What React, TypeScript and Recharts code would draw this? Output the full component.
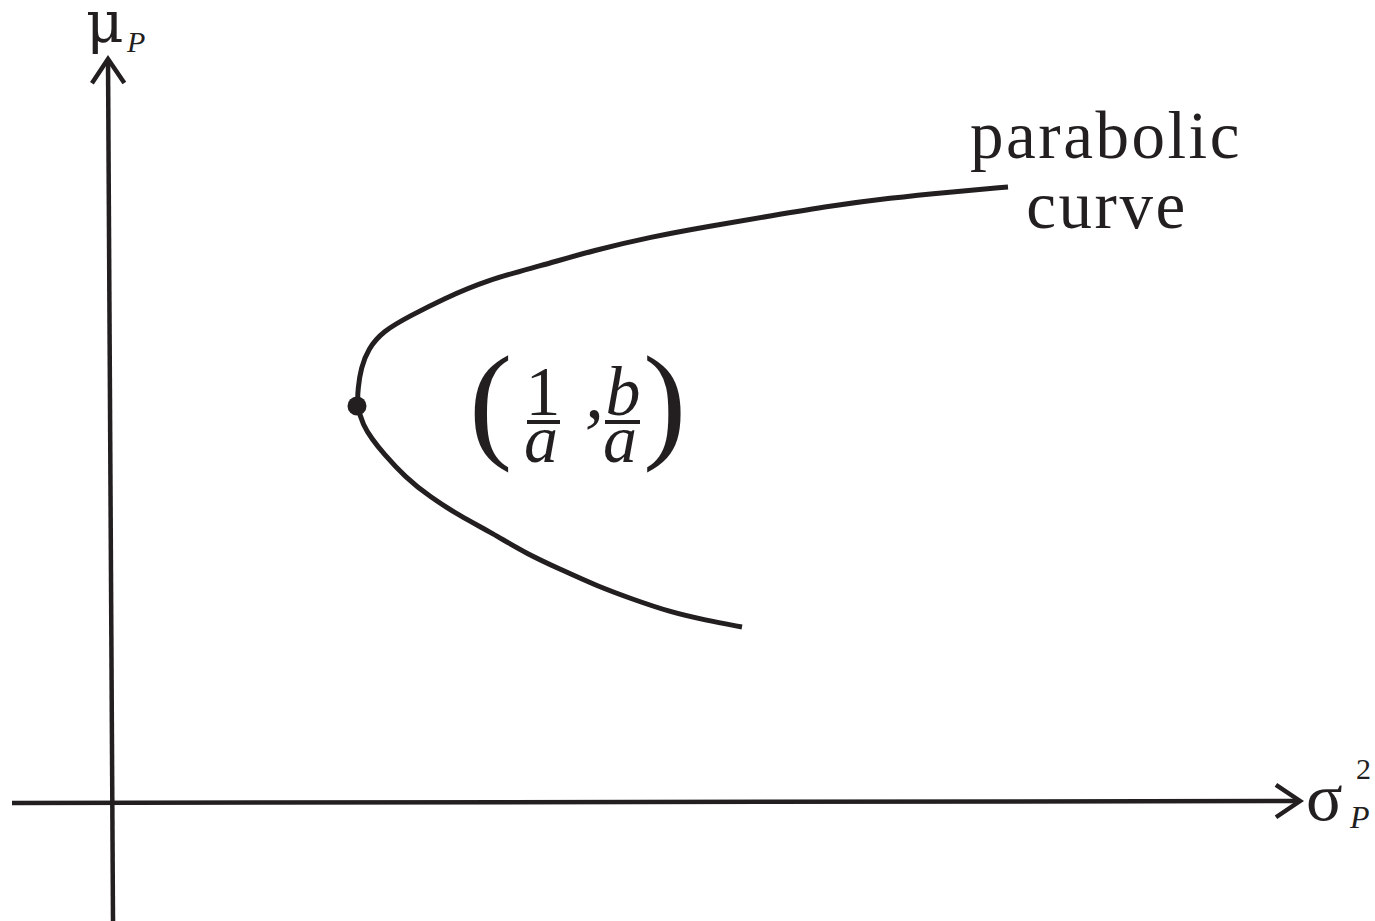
import React from "react";
import { LineChart, Line, XAxis, YAxis, ReferenceLine, ReferenceDot } from "recharts";

const INK = "#231f20";
const SERIF = "'Liberation Serif', 'Times New Roman', serif";

// upper branch, from the open end down to the vertex
const upperSigma = [8.96, 8.38, 7.78, 7.18, 6.58, 5.98, 5.38, 4.83, 4.28, 3.75, 3.31, 2.98, 2.71, 2.56, 2.49, 2.46];
const upperMu = [6.16, 6.11, 6.05, 5.97, 5.87, 5.77, 5.66, 5.53, 5.37, 5.23, 5.04, 4.87, 4.72, 4.54, 4.35, 4.15];

// minimum-variance point
const vertexSigma = 2.45;
const vertexMu = 3.97;

// lower branch, from the vertex to the open end
const lowerSigma = [2.51, 2.6, 2.71, 2.93, 3.18, 3.48, 3.8, 4.15, 4.5, 4.85, 5.2, 5.58, 5.93, 6.3];
const lowerMu = [3.78, 3.64, 3.5, 3.26, 3.06, 2.87, 2.7, 2.49, 2.33, 2.17, 2.04, 1.91, 1.83, 1.76];

// axis segments [sigma, mu]
const xAxisFrom = [-1.0, 0];
const xAxisTo = [11.88, 0.02];
const yAxisFrom = [0.01, -1.18];
const yAxisTo = [-0.04, 7.44];

const curveLabel = ["parabolic", "curve"];

const data = [
  ...upperSigma.map((s, i) => ({ sigma: s, mu: upperMu[i] })),
  { sigma: vertexSigma, mu: vertexMu },
  ...lowerSigma.map((s, i) => ({ sigma: s, mu: lowerMu[i] })),
];

const W = 1375;
const H = 921;

function Arrow(props: any) {
  const { x1, y1, x2, y2 } = props;
  const ang = Math.atan2(y2 - y1, x2 - x1);
  const len = 29;
  const spread = (34 * Math.PI) / 180;
  const a1x = x2 - len * Math.cos(ang - spread);
  const a1y = y2 - len * Math.sin(ang - spread);
  const a2x = x2 - len * Math.cos(ang + spread);
  const a2y = y2 - len * Math.sin(ang + spread);
  return (
    <g>
      <line x1={x1} y1={y1} x2={x2} y2={y2} stroke={INK} strokeWidth={4.5} />
      <polyline
        points={`${a1x},${a1y} ${x2},${y2} ${a2x},${a2y}`}
        fill="none"
        stroke={INK}
        strokeWidth={4.5}
        strokeLinejoin="miter"
      />
    </g>
  );
}

function VertexMark({ cx, cy }: any) {
  const t = { fontFamily: SERIF, fill: INK };
  return (
    <g>
      <circle cx={cx} cy={cy} r={9.5} fill={INK} />
      <text {...t} x={cx + 112} y={cy + 39} fontSize={130}>(</text>
      <text {...t} x={cx + 186} y={cy + 9} fontSize={70} textAnchor="middle">1</text>
      <line x1={cx + 170} x2={cx + 203} y1={cy + 16} y2={cy + 16} stroke={INK} strokeWidth={4} />
      <text {...t} x={cx + 184} y={cy + 56} fontSize={68} fontStyle="italic" textAnchor="middle">a</text>
      <text {...t} x={cx + 228} y={cy + 12} fontSize={76} fontStyle="italic">,</text>
      <text {...t} x={cx + 266} y={cy + 9} fontSize={70} fontStyle="italic" textAnchor="middle">b</text>
      <line x1={cx + 248} x2={cx + 283} y1={cy + 16} y2={cy + 16} stroke={INK} strokeWidth={4} />
      <text {...t} x={cx + 263} y={cy + 56} fontSize={68} fontStyle="italic" textAnchor="middle">a</text>
      <text {...t} x={cx + 286} y={cy + 39} fontSize={130}>)</text>
    </g>
  );
}

function CurveLabel({ cx, cy }: any) {
  return (
    <g fontFamily={SERIF} fill={INK} fontSize={67} letterSpacing={2.5}>
      <text x={cx + 98} y={cy - 29} textAnchor="middle">{curveLabel[0]}</text>
      <text x={cx + 99} y={cy + 41} textAnchor="middle">{curveLabel[1]}</text>
    </g>
  );
}

function MuLabel({ cx, cy }: any) {
  return (
    <g fill={INK}>
      <text x={cx - 22} y={cy - 17} fontSize={58} fontFamily="'DejaVu Serif', serif">μ</text>
      <text x={cx + 19} y={cy - 7} fontSize={30} fontStyle="italic" fontFamily={SERIF}>P</text>
    </g>
  );
}

function SigmaLabel({ cx, cy }: any) {
  return (
    <g fontFamily={SERIF} fill={INK}>
      <text x={cx + 6} y={cy + 19} fontSize={68}>σ</text>
      <text x={cx + 56} y={cy - 22} fontSize={30}>2</text>
      <text x={cx + 50} y={cy + 27} fontSize={32} fontStyle="italic">P</text>
    </g>
  );
}

export default function App() {
  return (
    <div style={{ position: "absolute", left: 0, top: 0, width: W, height: H, background: "#fff" }}>
      <LineChart width={W} height={H} data={data} margin={{ top: 0, right: 0, bottom: 0, left: 0 }}>
        <XAxis type="number" dataKey="sigma" domain={[-1.12, 12.63]} allowDataOverflow hide />
        <YAxis type="number" domain={[-1.18, 8.03]} allowDataOverflow hide />
        <ReferenceLine
          segment={[{ x: xAxisFrom[0], y: xAxisFrom[1] }, { x: xAxisTo[0], y: xAxisTo[1] }]}
          shape={Arrow}
        />
        <ReferenceLine
          segment={[{ x: yAxisFrom[0], y: yAxisFrom[1] }, { x: yAxisTo[0], y: yAxisTo[1] }]}
          shape={Arrow}
        />
        <Line
          type="basis"
          dataKey="mu"
          stroke={INK}
          strokeWidth={5}
          dot={false}
          activeDot={false}
          isAnimationActive={false}
        />
        <ReferenceDot x={vertexSigma} y={vertexMu} r={9.5} shape={VertexMark} />
        <ReferenceDot x={upperSigma[0]} y={upperMu[0]} r={0} shape={CurveLabel} />
        <ReferenceDot x={yAxisTo[0]} y={yAxisTo[1]} r={0} shape={MuLabel} />
        <ReferenceDot x={xAxisTo[0]} y={xAxisTo[1]} r={0} shape={SigmaLabel} />
      </LineChart>
    </div>
  );
}
